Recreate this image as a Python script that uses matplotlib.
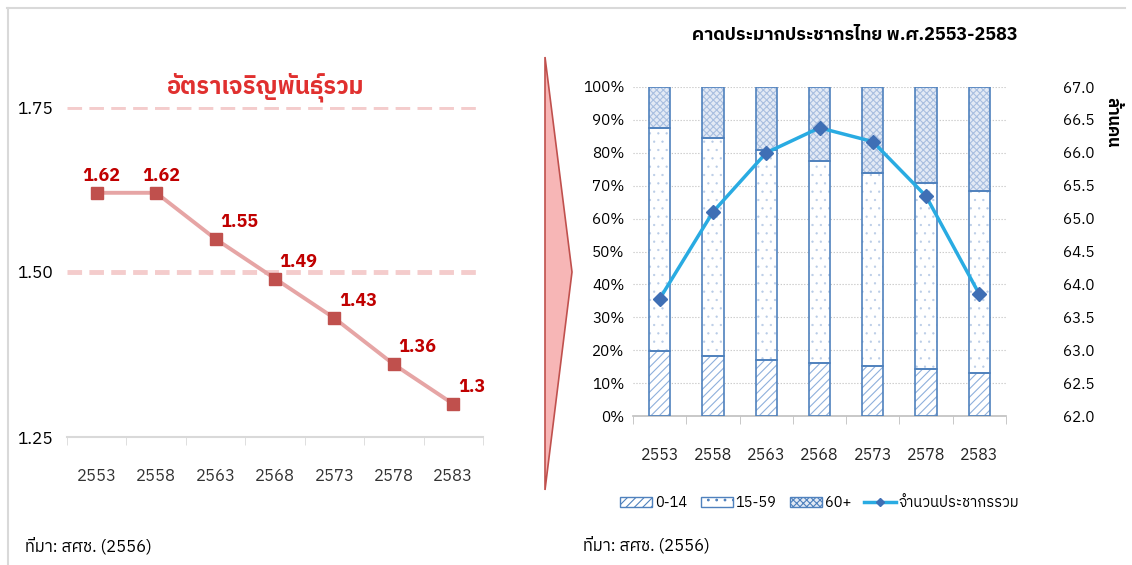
import matplotlib
matplotlib.use('Agg')
import matplotlib.pyplot as plt
import numpy as np
from matplotlib import font_manager
from matplotlib.ft2font import FT2Font
from matplotlib.patches import Polygon, Patch
from matplotlib.lines import Line2D

# data
years = ['2553', '2558', '2563', '2568', '2573', '2578', '2583']
tfr = [1.62, 1.62, 1.55, 1.49, 1.43, 1.36, 1.30]
tfr_labels = ['1.62', '1.62', '1.55', '1.49', '1.43', '1.36', '1.3']
age_0_14 = [19.8, 18.2, 17.1, 16.1, 15.2, 14.2, 13.2]
age_60_up = [12.6, 15.5, 19.2, 22.5, 26.0, 29.3, 31.7]
age_15_59 = [100 - a - b for a, b in zip(age_0_14, age_60_up)]
pop_total = [63.78, 65.10, 66.00, 66.38, 66.17, 65.34, 63.85]

# หา font ที่มีตัวอักษรไทย
thai_font = None
for f in font_manager.fontManager.ttflist:
    try:
        if 0x0E01 in FT2Font(f.fname).get_charmap():
            thai_font = f.name
            if 'Sans' in f.name:
                break
    except Exception:
        pass

fams = ['Liberation Sans Narrow']
if thai_font:
    fams.append(thai_font)
fams.append('DejaVu Sans')
plt.rcParams['font.family'] = fams

W, H = 1132, 565
fig = plt.figure(figsize=(W / 100, H / 100), dpi=100)

def box(x0, y0, x1, y1):
    return [x0 / W, 1 - y1 / H, (x1 - x0) / W, (y1 - y0) / H]

# กรอบ
fig.add_artist(Line2D([7 / W, 1125 / W], [1 - 8 / H, 1 - 8 / H], color='#d9d9d9', lw=1.5))
fig.add_artist(Line2D([8 / W, 8 / W], [1 - 8 / H, 0], color='#d9d9d9', lw=1.5))

# ---------------- left chart ----------------
ax1 = fig.add_axes(box(67, 107, 483, 437))
x = np.arange(len(years))
ax1.plot(x, tfr, color='#e6a5a5', lw=2.8, zorder=3)
ax1.plot(x, tfr, ls='none', marker='s', ms=8, color='#c0504d', zorder=4)
for i, (v, lab) in enumerate(zip(tfr, tfr_labels)):
    ax1.text(i + 0.08, v + 0.012, lab, color='#c00000', fontsize=13, fontweight='bold',
             ha='left' if i > 1 else 'center', va='bottom')
ax1.set_xlim(-0.5, 6.5)
ax1.set_ylim(1.25, 1.75)
ax1.set_yticks([1.25, 1.50, 1.75])
ax1.set_yticklabels(['1.25', '1.50', '1.75'], fontsize=12.5)
for yv in [1.50, 1.75]:
    ax1.axhline(yv, color='#f4cccc', lw=3.5, ls=(0, (3, 1.5)), zorder=1)
ax1.set_xticks(x)
ax1.set_xticklabels(years, fontsize=12, color='#333333')
ax1.set_xticks(np.arange(-0.5, 7, 1), minor=True)
ax1.tick_params(axis='x', which='major', length=0, pad=22)
ax1.tick_params(axis='x', which='minor', length=6, color='#d9d9d9')
ax1.tick_params(axis='y', length=0, pad=10)
for s in ['top', 'right', 'left']:
    ax1.spines[s].set_visible(False)
ax1.spines['bottom'].set_color('#d9d9d9')
ax1.spines['bottom'].set_linewidth(1.5)
fig.text(265 / W, 1 - 87 / H, 'อัตราเจริญพันธุ์รวม', color='#e0302f', fontsize=17,
         fontweight='bold', ha='center', va='center')
fig.text(25 / W, 1 - 546 / H, 'ที่มา: สศช. (2556)', fontsize=12, ha='left', va='center')

# ลูกศร
arrow = Polygon([[545 / W, 1 - 57 / H], [572 / W, 1 - 272 / H], [545 / W, 1 - 490 / H]],
                closed=True, transform=fig.transFigure, facecolor='#f7b6b6',
                edgecolor='#c0504d', lw=1.2)
fig.add_artist(arrow)

# ---------------- right chart ----------------
ax2 = fig.add_axes(box(633, 87, 1006, 416))
bw = 0.4
edge = '#4f81bd'
plt.rcParams['hatch.linewidth'] = 0.8
b1 = ax2.bar(x, age_0_14, bw, color='white', hatch='////', edgecolor='#8fb0dc', lw=0, zorder=2)
plt.rcParams['hatch.linewidth'] = 0.4
b2 = ax2.bar(x, age_15_59, bw, bottom=age_0_14, color='white', hatch='..', edgecolor='#b8cbe6', lw=0, zorder=2)
plt.rcParams['hatch.linewidth'] = 0.8
bot3 = [a + b for a, b in zip(age_0_14, age_15_59)]
b3 = ax2.bar(x, age_60_up, bw, bottom=bot3, color='#e3eaf5', hatch='xxxxx', edgecolor='#a9bfe0', lw=0, zorder=2)
ax2.bar(x, age_0_14, bw, fill=False, edgecolor=edge, lw=1.2, zorder=3)
ax2.bar(x, age_15_59, bw, bottom=age_0_14, fill=False, edgecolor=edge, lw=1.2, zorder=3)
ax2.bar(x, age_60_up, bw, bottom=bot3, fill=False, edgecolor=edge, lw=1.2, zorder=3)
ax2.set_ylim(0, 100)
ax2.set_xlim(-0.5, 6.5)
ax2.set_yticks(np.arange(0, 101, 10))
ax2.set_yticklabels(['%d%%' % v for v in range(0, 101, 10)], fontsize=11)
ax2.yaxis.grid(True, color='#bfbfbf', ls=':', lw=0.8)
ax2.set_axisbelow(True)
ax2.set_xticks(x)
ax2.set_xticklabels(years, fontsize=11.5, color='#222222')
ax2.set_xticks(np.arange(-0.5, 7, 1), minor=True)
ax2.tick_params(axis='x', which='major', length=0, pad=22)
ax2.tick_params(axis='x', which='minor', length=6, color='#bfbfbf')
ax2.tick_params(axis='y', length=0, pad=6)
for s in ['top', 'right', 'left']:
    ax2.spines[s].set_visible(False)
ax2.spines['bottom'].set_color('#bfbfbf')
ax2.spines['bottom'].set_linewidth(1.2)

ax3 = ax2.twinx()
ax3.plot(x, pop_total, color='#29abe2', lw=2.5, marker='D', ms=7,
         markerfacecolor='#3f6fb5', markeredgecolor='#3f6fb5', zorder=5)
ax3.set_ylim(62, 67)
ax3.set_yticks(np.arange(62, 67.1, 0.5))
ax3.set_yticklabels(['%.1f' % v for v in np.arange(62, 67.1, 0.5)], fontsize=11)
for s in ax3.spines.values():
    s.set_visible(False)
for lab in ax3.get_yticklabels():
    lab.set_ha('left')
ax3.tick_params(axis='y', length=0, pad=41)
fig.text(1112 / W, 1 - 122 / H, 'ล้านคน', rotation=270, fontsize=12, fontweight='bold',
         ha='center', va='center')

fig.text(855 / W, 1 - 35 / H, 'คาดประมากประชากรไทย พ.ศ.2553-2583', fontsize=13,
         fontweight='bold', ha='center', va='center')
fig.text(583 / W, 1 - 545 / H, 'ที่มา: สศช. (2556)', fontsize=12, ha='left', va='center')

handles = [
    Patch(facecolor='white', hatch='////', edgecolor=edge),
    Patch(facecolor='white', hatch='..', edgecolor=edge),
    Patch(facecolor='#e3eaf5', hatch='xxxxx', edgecolor=edge),
    Line2D([0], [0], color='#29abe2', lw=2.5, marker='D', ms=4,
           markerfacecolor='#3f6fb5', markeredgecolor='#3f6fb5'),
]
fig.legend(handles, ['0-14', '15-59', '60+', 'จำนวนประชากรรวม'], ncol=4, frameon=False,
           loc='center', bbox_to_anchor=(820 / W, 1 - 503 / H), fontsize=10.5,
           handlelength=2.2, handletextpad=0.2, columnspacing=0.9)

fig.savefig('out.png', dpi=100)
